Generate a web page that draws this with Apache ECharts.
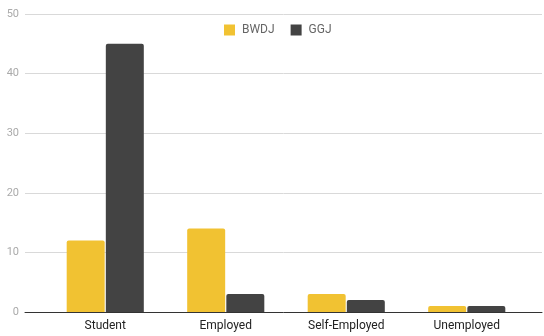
<!DOCTYPE html>
<html><head><meta charset="utf-8">
<script src="https://cdn.jsdelivr.net/npm/echarts@6/dist/echarts.min.js"></script>
<style>html,body{margin:0;padding:0;background:#fff}#c{width:544px;height:336px}</style>
</head><body><div id="c"></div>
<script>
const categories = ['Student', 'Employed', 'Self-Employed', 'Unemployed'];
const bwdj = [12, 14, 3, 1];
const ggj = [45, 3, 2, 1];
const yTicks = { min: 0, max: 50, interval: 10 };

const chart = echarts.init(document.getElementById('c'));
chart.setOption({
  animation: false,
  textStyle: { fontFamily: 'Roboto' },
  legend: {
    top: 24, left: 224, itemWidth: 11, itemHeight: 11, itemGap: 16,
    icon: 'rect', padding: 0,
    textStyle: { color: '#666', fontSize: 12, fontFamily: 'Roboto', padding: [0, 0, 0, 2] },
    data: ['BWDJ', 'GGJ']
  },
  grid: [
    { left: 25, right: 2, top: 14, bottom: 24 },
    { left: 45, right: 17, top: 14, bottom: 24 }
  ],
  xAxis: [
    { type: 'category', gridIndex: 0, data: [''], axisLine: { lineStyle: { color: '#333', width: 1 } },
      axisTick: { show: false }, axisLabel: { show: false } },
    { type: 'category', gridIndex: 1, data: categories, axisLine: { show: false },
      axisTick: { show: false },
      axisLabel: { color: '#222', fontSize: 12, margin: 8, fontFamily: 'Roboto' } }
  ],
  yAxis: [
    { type: 'value', gridIndex: 0, min: yTicks.min, max: yTicks.max, interval: yTicks.interval,
      axisLine: { show: false }, axisTick: { show: false },
      axisLabel: { color: '#aaa', fontSize: 11, margin: 6 },
      splitLine: { lineStyle: { color: '#d9d9d9', width: 1 } } },
    { type: 'value', gridIndex: 1, min: yTicks.min, max: yTicks.max, interval: yTicks.interval, show: false }
  ],
  series: [
    { name: 'BWDJ', type: 'bar', xAxisIndex: 1, yAxisIndex: 1, data: bwdj,
      itemStyle: { color: '#f1c232', borderRadius: [2, 2, 0, 0] },
      barGap: '3%', barCategoryGap: '36%' },
    { name: 'GGJ', type: 'bar', xAxisIndex: 1, yAxisIndex: 1, data: ggj,
      itemStyle: { color: '#434343', borderRadius: [2, 2, 0, 0] },
      barGap: '3%', barCategoryGap: '36%' }
  ]
});
</script></body></html>
